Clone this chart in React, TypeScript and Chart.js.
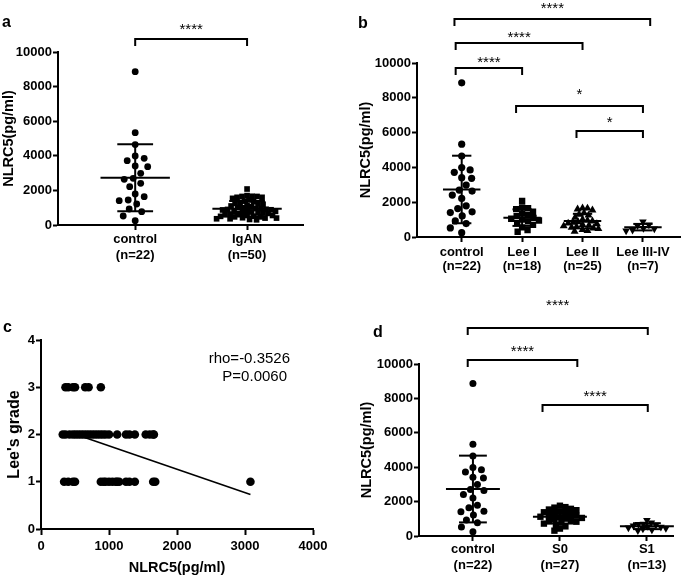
import React, { useEffect, useRef } from "react";
import { Chart, registerables } from "chart.js";

Chart.register(...registerables);

const FONT = '"Liberation Sans", Arial, Helvetica, sans-serif';

// ---------------- data ----------------
const CONTROL = [8860, 5335, 4650, 3988, 3855, 3717, 3410, 3370, 2987, 2697, 2640, 2408, 2216, 1792, 1636, 1445, 1406, 1214, 925, 770, 520, 250];
const LEE_I = [2080, 1700, 1650, 1600, 1450, 1350, 1250, 1200, 1100, 1050, 1000, 950, 900, 800, 700, 550, 400, 300];
const LEE_II = [320, 360, 420, 470, 510, 550, 590, 630, 670, 710, 750, 790, 830, 870, 910, 950, 1000, 1120, 1250, 1300, 1380, 1540, 1600, 1650, 1660];
const LEE_III_IV = [360, 400, 470, 500, 650, 700, 880];
const IGAN = [...LEE_I, ...LEE_II, ...LEE_III_IV];
const S0 = [1760, 1680, 1650, 1580, 1540, 1500, 1420, 1380, 1330, 1300, 1260, 1210, 1180, 1120, 1090, 1050, 1010, 960, 920, 870, 830, 780, 720, 650, 560, 430, 310];
const S1 = [920, 780, 700, 680, 640, 600, 560, 520, 480, 450, 410, 360, 320];

const CATS_A = [["control", "(n=22)"], ["IgAN", "(n=50)"]];
const CATS_B = [["control", "(n=22)"], ["Lee I", "(n=18)"], ["Lee II", "(n=25)"], ["Lee III-IV", "(n=7)"]];
const CATS_D = [["control", "(n=22)"], ["S0", "(n=27)"], ["S1", "(n=13)"]];
const Y_TICKS_DOT = [0, 2000, 4000, 6000, 8000, 10000];

// panel c: NLRC5 (x) against Lee's grade (y)
const C_GRADE1_X = [340, 400, 470, 500, 880, 920, 950, 1000, 1050, 1100, 1120, 1150, 1250, 1300, 1380, 1650, 1680, 3080];
const C_GRADE2_X = LEE_II;
const C_GRADE3_X = LEE_III_IV;
const C_FIT_X = [600, 3080];
const C_FIT_Y = [1.96, 0.73];
const C_X_TICKS = [0, 1000, 2000, 3000, 4000];
const C_Y_TICKS = [0, 1, 2, 3, 4];

const BRACKETS_A = [{ from: 0, to: 1, y: 10750, starY: 11560, text: "****" }];
const BRACKETS_B = [
  { from: -0.12, to: 3.12, y: 12530, starY: 13390, text: "****" },
  { from: -0.1, to: 2.0, y: 11150, starY: 11720, text: "****" },
  { from: -0.1, to: 1.0, y: 9710, starY: 10290, text: "****" },
  { from: 0.9, to: 3.0, y: 7530, starY: 8450, text: "*" },
  { from: 1.9, to: 3.0, y: 6090, starY: 6840, text: "*" },
];
const BRACKETS_D = [
  { from: -0.06, to: 2.01, y: 12090, starY: 13660, text: "****" },
  { from: -0.06, to: 1.2, y: 10230, starY: 10990, text: "****" },
  { from: 0.8, to: 2.01, y: 7620, starY: 8370, text: "****" },
];

// ---------------- helpers ----------------
const mean = (a: number[]) => a.reduce((s, v) => s + v, 0) / a.length;
const sd = (a: number[]) => {
  const m = mean(a);
  return Math.sqrt(a.reduce((s, v) => s + (v - m) * (v - m), 0) / (a.length - 1));
};

// deterministic beeswarm layout (pixel space), returns x offsets in axis units
function swarm(values: number[], pxX: number, pxY: number, d: number): number[] {
  const order = values.map((_, i) => i).sort((a, b) => values[b] - values[a]);
  const placed: { x: number; y: number }[] = [];
  const off = new Array(values.length).fill(0);
  for (const i of order) {
    const y = values[i] * pxY;
    let best = 0;
    for (let k = 0; k < 600; k++) {
      const cand = (k % 2 === 1 ? 1 : -1) * Math.ceil(k / 2) * 0.5;
      if (placed.every((p) => (p.x - cand) ** 2 + (p.y - y) ** 2 >= d * d)) {
        best = cand;
        break;
      }
    }
    placed.push({ x: best, y });
    off[i] = best / pxX;
  }
  return off;
}

const tickFont = (size: number, lineHeight = 1.2) => ({ family: FONT, size, weight: "bold" as const, lineHeight });

function letterPlugin(text: string, x: number, y: number) {
  return {
    id: "letter" + text,
    afterDraw(chart: any) {
      const ctx = chart.ctx;
      ctx.save();
      ctx.fillStyle = "#000";
      ctx.font = `bold 16px ${FONT}`;
      ctx.textAlign = "left";
      ctx.textBaseline = "alphabetic";
      ctx.fillText(text, x, y);
      ctx.restore();
    },
  };
}

type DotCfg = {
  groups: number[][];
  cats: string[][];
  styles: string[];
  rotations: number[];
  radii: number[];
  diams: number[];
  xMin: number;
  xMax: number;
  pxX: number;
  pxY: number;
  yWidth: number;
  padTop: number;
  padRight: number;
  xHeight: number;
  xTickPad: number;
  xLineHeight: number;
  titlePad: number;
  brackets: { from: number; to: number; y: number; starY: number; text: string }[];
  letter: [string, number, number];
};

function makeDotChart(canvas: HTMLCanvasElement, cfg: DotCfg) {
  const datasets = cfg.groups.map((vals, gi) => {
    const off = swarm(vals, cfg.pxX, cfg.pxY, cfg.diams[gi]);
    return {
      type: "scatter" as const,
      data: vals.map((v, j) => ({ x: gi + off[j], y: v })),
      pointStyle: cfg.styles[gi],
      rotation: cfg.rotations[gi],
      pointRadius: cfg.radii[gi],
      pointHoverRadius: cfg.radii[gi],
      backgroundColor: "#000",
      borderColor: "#000",
      borderWidth: 0,
    };
  });

  const annot = {
    id: "annot",
    afterDatasetsDraw(chart: any) {
      const { ctx } = chart;
      const x = chart.scales.x;
      const y = chart.scales.y;
      ctx.save();
      ctx.strokeStyle = "#000";
      ctx.lineWidth = 2;
      const line = (x1: number, y1: number, x2: number, y2: number) => {
        ctx.beginPath();
        ctx.moveTo(x1, y1);
        ctx.lineTo(x2, y2);
        ctx.stroke();
      };
      cfg.groups.forEach((vals, i) => {
        const m = mean(vals);
        const s = sd(vals);
        const px = x.getPixelForValue(i);
        const hw = x.getPixelForValue(i + 0.31) - px;
        const cw = x.getPixelForValue(i + 0.16) - px;
        const ym = y.getPixelForValue(m);
        const yt = y.getPixelForValue(m + s);
        const yb = y.getPixelForValue(Math.max(m - s, 0));
        line(px - hw, ym, px + hw, ym);
        line(px - cw, yt, px + cw, yt);
        line(px - cw, yb, px + cw, yb);
        line(px, yt, px, yb);
      });
      ctx.restore();
    },
    afterDraw(chart: any) {
      const { ctx } = chart;
      const x = chart.scales.x;
      const y = chart.scales.y;
      ctx.save();
      ctx.strokeStyle = "#000";
      ctx.fillStyle = "#000";
      ctx.lineWidth = 2;
      ctx.lineJoin = "miter";
      cfg.brackets.forEach((b) => {
        const x1 = x.getPixelForValue(b.from);
        const x2 = x.getPixelForValue(b.to);
        const yy = y.getPixelForValue(b.y);
        ctx.beginPath();
        ctx.moveTo(x1, yy + 7);
        ctx.lineTo(x1, yy);
        ctx.lineTo(x2, yy);
        ctx.lineTo(x2, yy + 7);
        ctx.stroke();
        ctx.font = `15px ${FONT}`;
        ctx.textAlign = "center";
        ctx.textBaseline = "alphabetic";
        ctx.fillText(b.text, (x1 + x2) / 2, y.getPixelForValue(b.starY) + 0.57 * 15);
      });
      ctx.restore();
    },
  };

  return new Chart(canvas, {
    type: "scatter",
    data: { datasets } as any,
    options: {
      responsive: false,
      animation: false,
      events: [],
      layout: { padding: { top: cfg.padTop, right: cfg.padRight, left: 0, bottom: 0 } },
      plugins: { legend: { display: false }, tooltip: { enabled: false } },
      scales: {
        x: {
          type: "linear",
          min: cfg.xMin,
          max: cfg.xMax,
          afterBuildTicks: (s: any) => {
            s.ticks = cfg.cats.map((_, i) => ({ value: i }));
          },
          afterFit: (s: any) => {
            s.height = cfg.xHeight;
          },
          ticks: {
            callback: (v: any) => cfg.cats[Math.round(Number(v))] ?? "",
            autoSkip: false,
            maxRotation: 0,
            minRotation: 0,
            color: "#000",
            font: tickFont(13, cfg.xLineHeight),
            padding: cfg.xTickPad,
          },
          grid: { drawOnChartArea: false, drawTicks: true, tickLength: 5, tickWidth: 2, tickColor: "#000", color: "#000" },
          border: { display: true, color: "#000", width: 2 },
        },
        y: {
          type: "linear",
          min: 0,
          max: 10000,
          afterBuildTicks: (s: any) => {
            s.ticks = Y_TICKS_DOT.map((v) => ({ value: v }));
          },
          afterFit: (s: any) => {
            s.width = cfg.yWidth;
          },
          ticks: { callback: (v: any) => String(v), color: "#000", font: tickFont(13), padding: 1 },
          grid: { drawOnChartArea: false, drawTicks: true, tickLength: 5, tickWidth: 2, tickColor: "#000", color: "#000" },
          border: { display: true, color: "#000", width: 2 },
          title: {
            display: true,
            text: "NLRC5(pg/ml)",
            color: "#000",
            font: { family: FONT, size: 14.5, weight: "bold" },
            padding: { top: cfg.titlePad, bottom: 0 },
          },
        },
      },
    } as any,
    plugins: [annot, letterPlugin(cfg.letter[0], cfg.letter[1], cfg.letter[2])],
  });
}

function makeScatterChart(canvas: HTMLCanvasElement) {
  const pt = (xs: number[], g: number) => xs.map((v) => ({ x: v, y: g }));
  const dotDs = (data: any[]) => ({
    type: "scatter" as const,
    data,
    pointStyle: "circle",
    pointRadius: 4.3,
    pointHoverRadius: 4.3,
    backgroundColor: "#000",
    borderColor: "#000",
    borderWidth: 0,
  });
  const textPlugin = {
    id: "rho",
    afterDraw(chart: any) {
      const ctx = chart.ctx;
      ctx.save();
      ctx.fillStyle = "#000";
      ctx.font = `15px ${FONT}`;
      ctx.textAlign = "right";
      ctx.textBaseline = "alphabetic";
      ctx.fillText("rho=-0.3526", 290, 72.5);
      ctx.fillText("P=0.0060", 287, 90.5);
      ctx.restore();
    },
  };
  return new Chart(canvas, {
    type: "scatter",
    data: {
      datasets: [
        dotDs(pt(C_GRADE1_X, 1)),
        dotDs(pt(C_GRADE2_X, 2)),
        dotDs(pt(C_GRADE3_X, 3)),
        {
          type: "line",
          data: C_FIT_X.map((v, i) => ({ x: v, y: C_FIT_Y[i] })),
          borderColor: "#000",
          borderWidth: 1.6,
          pointRadius: 0,
          showLine: true,
          fill: false,
        },
      ],
    } as any,
    options: {
      responsive: false,
      animation: false,
      events: [],
      layout: { padding: { top: 50, right: 27, left: 0, bottom: 0 } },
      plugins: { legend: { display: false }, tooltip: { enabled: false } },
      scales: {
        x: {
          type: "linear",
          min: 0,
          max: 4000,
          afterBuildTicks: (s: any) => {
            s.ticks = C_X_TICKS.map((v) => ({ value: v }));
          },
          afterFit: (s: any) => {
            s.height = 50;
          },
          ticks: { callback: (v: any) => String(v), color: "#000", font: tickFont(13), padding: 4, maxRotation: 0 },
          grid: { drawOnChartArea: false, drawTicks: true, tickLength: 6, tickWidth: 2, tickColor: "#000", color: "#000" },
          border: { display: true, color: "#000", width: 2 },
          title: {
            display: true,
            text: "NLRC5(pg/ml)",
            color: "#000",
            font: { family: FONT, size: 14.5, weight: "bold" },
            padding: { top: 0, bottom: 2.3 },
          },
        },
        y: {
          type: "linear",
          min: 0,
          max: 4,
          afterBuildTicks: (s: any) => {
            s.ticks = C_Y_TICKS.map((v) => ({ value: v }));
          },
          afterFit: (s: any) => {
            s.width = 41;
          },
          ticks: { callback: (v: any) => String(v), color: "#000", font: tickFont(13), padding: 1 },
          grid: { drawOnChartArea: false, drawTicks: true, tickLength: 5, tickWidth: 2, tickColor: "#000", color: "#000" },
          border: { display: true, color: "#000", width: 2 },
          title: {
            display: true,
            text: "Lee's grade",
            color: "#000",
            font: { family: FONT, size: 16, weight: "bold" },
            padding: { top: 5.4, bottom: 0 },
          },
        },
      },
    } as any,
    plugins: [textPlugin, letterPlugin("c", 3, 42)],
  });
}

export default function App() {
  const aRef = useRef<HTMLCanvasElement>(null);
  const bRef = useRef<HTMLCanvasElement>(null);
  const cRef = useRef<HTMLCanvasElement>(null);
  const dRef = useRef<HTMLCanvasElement>(null);

  useEffect(() => {
    const charts: Chart[] = [];
    charts.push(
      makeDotChart(aRef.current!, {
        groups: [CONTROL, IGAN],
        cats: CATS_A,
        styles: ["circle", "rect"],
        rotations: [0, 0],
        radii: [3.4, 4],
        diams: [9, 4.6],
        xMin: -0.69,
        xMax: 1.5,
        pxX: 112,
        pxY: 0.0173,
        yWidth: 58,
        padTop: 52,
        padRight: 37,
        xHeight: 65,
        xTickPad: 2,
        xLineHeight: 1.2,
        titlePad: 0.3,
        brackets: BRACKETS_A,
        letter: ["a", 2, 27],
      })
    );
    charts.push(
      makeDotChart(bRef.current!, {
        groups: [CONTROL, LEE_I, LEE_II, LEE_III_IV],
        cats: CATS_B,
        styles: ["circle", "rect", "triangle", "triangle"],
        rotations: [0, 0, 0, 180],
        radii: [3.6, 4.5, 4.6, 4.4],
        diams: [8.5, 6, 5, 6.5],
        xMin: -0.74,
        xMax: 3.62,
        pxX: 61,
        pxY: 0.0174,
        yWidth: 77,
        padTop: 63,
        padRight: 2,
        xHeight: 53,
        xTickPad: 4,
        xLineHeight: 1.05,
        titlePad: 17.3,
        brackets: BRACKETS_B,
        letter: ["b", 18, 28],
      })
    );
    charts.push(makeScatterChart(cRef.current!));
    charts.push(
      makeDotChart(dRef.current!, {
        groups: [CONTROL, S0, S1],
        cats: CATS_D,
        styles: ["circle", "rect", "triangle"],
        rotations: [0, 0, 180],
        radii: [3.5, 4.5, 4.4],
        diams: [8.5, 5.5, 5],
        xMin: -0.62,
        xMax: 2.3,
        pxX: 87,
        pxY: 0.0172,
        yWidth: 79,
        padTop: 74,
        padRight: 12,
        xHeight: 43,
        xTickPad: 1,
        xLineHeight: 1.2,
        titlePad: 18.3,
        brackets: BRACKETS_D,
        letter: ["d", 33, 47],
      })
    );
    return () => charts.forEach((c) => c.destroy());
  }, []);

  const pos = (left: number, top: number): React.CSSProperties => ({ position: "absolute", left, top, display: "block" });

  return (
    <div style={{ position: "absolute", left: 0, top: 0, width: 685, height: 579, background: "#fff", overflow: "hidden" }}>
      <canvas ref={aRef} width={340} height={290} style={pos(0, 0)} />
      <canvas ref={bRef} width={345} height={290} style={pos(340, 0)} />
      <canvas ref={cRef} width={340} height={289} style={pos(0, 290)} />
      <canvas ref={dRef} width={345} height={289} style={pos(340, 290)} />
    </div>
  );
}
